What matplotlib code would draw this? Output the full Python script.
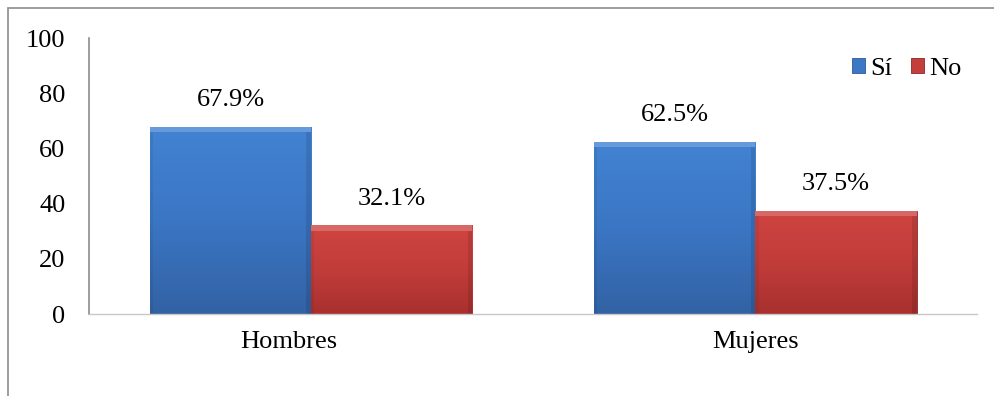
import numpy as np
import matplotlib
matplotlib.use("Agg")
import matplotlib.pyplot as plt
from matplotlib.patches import Rectangle
from matplotlib.colors import LinearSegmentedColormap
from matplotlib.transforms import ScaledTranslation

plt.rcParams['font.family'] = ['Liberation Serif', 'DejaVu Serif']

# données
categories = ["Hombres", "Mujeres"]
si_values = [67.9, 62.5]
no_values = [32.1, 37.5]
series_names = ["Sí", "No"]
yticks = [0, 20, 40, 60, 80, 100]

fig = plt.figure(figsize=(9.95, 3.96), dpi=100)
ax = fig.add_axes([0.0894, 0.207, 0.893, 0.697])

x = np.arange(len(categories))
w = 0.363

blue_cmap = LinearSegmentedColormap.from_list("b", ["#3262a4", "#3b76c4", "#4283d2"])
red_cmap = LinearSegmentedColormap.from_list("r", ["#a8302e", "#c13d3a", "#cf4441"])

bars_si = ax.bar(x - w / 2, si_values, w, color="#3c78c6", label=series_names[0],
                 edgecolor="#2c5a96", linewidth=0.6)
bars_no = ax.bar(x + w / 2, no_values, w, color="#c43e3b", label=series_names[1],
                 edgecolor="#8e2826", linewidth=0.6)

# dégradé + biseau sur chaque barre
grad = np.linspace(0, 1, 256).reshape(-1, 1)
for bars, cmap in [(bars_si, blue_cmap), (bars_no, red_cmap)]:
    for b in bars:
        x0, h, bw = b.get_x(), b.get_height(), b.get_width()
        z = b.get_zorder()
        im = ax.imshow(grad, cmap=cmap, origin="lower", aspect="auto",
                       extent=[x0, x0 + bw, 0, h], zorder=z + 0.1)
        im.set_clip_path(b)
        ax.add_patch(Rectangle((x0, h - 2.0), bw, 2.0, color="white", alpha=0.2,
                               lw=0, zorder=z + 0.2))
        ax.add_patch(Rectangle((x0 + bw * 0.97, 0), bw * 0.03, h - 2.0, color="black",
                               alpha=0.1, lw=0, zorder=z + 0.2))
        ax.add_patch(Rectangle((x0, 0), bw * 0.02, h - 2.0, color="black",
                               alpha=0.06, lw=0, zorder=z + 0.2))

for bars, vals in [(bars_si, si_values), (bars_no, no_values)]:
    for b, v in zip(bars, vals):
        ax.text(b.get_x() + b.get_width() / 2, v + 5.6, f"{v:.1f}%", ha="center",
                va="bottom", fontsize=19)

ax.set_xlim(-0.5, 1.5)
ax.set_ylim(0, 100)
ax.set_yticks(yticks)
ax.set_xticks(x)
ax.set_xticklabels(categories)
ax.tick_params(axis="both", labelsize=19, length=0)
ax.tick_params(axis="y", pad=17)
ax.tick_params(axis="x", pad=12)
# l'étiquette Hombres est un peu décalée à gauche dans l'original
lab0 = ax.get_xticklabels()[0]
lab0.set_transform(lab0.get_transform() + ScaledTranslation(-0.22, 0, fig.dpi_scale_trans))

for s in ["top", "right"]:
    ax.spines[s].set_visible(False)
ax.spines["left"].set_color("#8c8c8c")
ax.spines["left"].set_linewidth(1.2)
ax.spines["bottom"].set_color("#c8c8c8")
ax.spines["bottom"].set_linewidth(1.0)

ax.legend(loc="upper right", bbox_to_anchor=(1.0, 0.985), ncol=2, frameon=False,
          fontsize=19, handlelength=0.5, handleheight=0.5, handletextpad=0.2,
          columnspacing=0.7, borderpad=0.1)

# cadre du graphique
fig.patches.append(Rectangle((8 / 995, -0.1), 1.2, 1.1 - 8 / 396, transform=fig.transFigure,
                             fill=False, edgecolor="#8c8c8c", linewidth=1.2))

plt.savefig("out.png", dpi=100)
